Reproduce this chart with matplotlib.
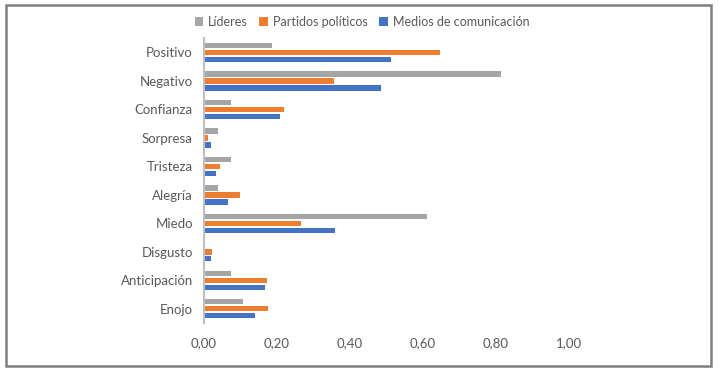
import matplotlib.pyplot as plt
from matplotlib.patches import Rectangle
import numpy as np

categorias = ["Positivo", "Negativo", "Confianza", "Sorpresa", "Tristeza",
              "Alegría", "Miedo", "Disgusto", "Anticipación", "Enojo"]
lideres = [0.187, 0.814, 0.073, 0.038, 0.073, 0.038, 0.610, 0.0, 0.073, 0.107]
partidos = [0.647, 0.357, 0.218, 0.012, 0.045, 0.098, 0.266, 0.023, 0.173, 0.175]
medios = [0.512, 0.485, 0.207, 0.018, 0.033, 0.067, 0.360, 0.018, 0.167, 0.141]
series = ["Líderes", "Partidos políticos", "Medios de comunicación"]
colores = ["#A5A5A5", "#ED7D31", "#4472C4"]

plt.rcParams['font.family'] = ['Lato', 'DejaVu Sans']

fig = plt.figure(figsize=(7.22, 3.78), dpi=100)
ax = fig.add_axes([0.2825, 0.1455, 0.5055, 0.7535])

y = np.arange(len(categorias))
off = 0.245
h = 0.19
ax.barh(y - off, lideres, height=h, color=colores[0], label=series[0])
ax.barh(y, partidos, height=h, color=colores[1], label=series[1])
ax.barh(y + off, medios, height=h, color=colores[2], label=series[2])

ax.set_ylim(len(categorias) - 0.5, -0.5)
ax.set_xlim(0, 1.0)
ax.set_yticks(y)
ax.set_yticklabels(categorias)
ticks = [0, 0.2, 0.4, 0.6, 0.8, 1.0]
ax.set_xticks(ticks)
ax.set_xticklabels([f"{t:.2f}".replace(".", ",") for t in ticks])
ax.tick_params(axis='both', length=0, labelsize=9.5, labelcolor="#595959")
ax.tick_params(axis='x', pad=10)
ax.tick_params(axis='y', pad=8)
for s in ["top", "right", "bottom"]:
    ax.spines[s].set_visible(False)
ax.spines["left"].set_color("#BFBFBF")
ax.spines["left"].set_linewidth(1.5)

fig.legend(loc="center", bbox_to_anchor=(362 / 722, 1 - 22 / 378), ncol=3,
           frameon=False, fontsize=9, handlelength=0.7, handleheight=0.7,
           handletextpad=0.4, columnspacing=0.9, labelcolor="#595959")

fig.patches.append(Rectangle((6 / 722, 1 - 366 / 378), 705 / 722, 361 / 378,
                             transform=fig.transFigure, fill=False,
                             edgecolor="#7F7F7F", linewidth=1.8))

fig.savefig("out.png", dpi=100)
